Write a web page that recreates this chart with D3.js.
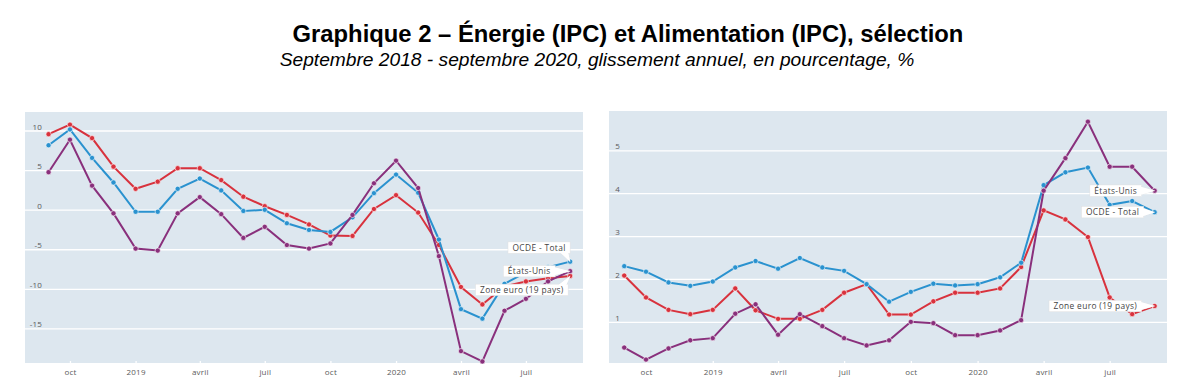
<!DOCTYPE html>
<html>
<head>
<meta charset="utf-8">
<script src="https://cdn.jsdelivr.net/npm/d3@7"></script>
<style>
  body { margin: 0; background: #fff; }
  svg { display: block; }
</style>
</head>
<body>
<div id="chart"></div>
<script>
// months, Sept 2018 -> Sept 2020
var months = ["2018-09","2018-10","2018-11","2018-12","2019-01","2019-02","2019-03","2019-04","2019-05","2019-06","2019-07","2019-08","2019-09",
  "2019-10","2019-11","2019-12","2020-01","2020-02","2020-03","2020-04","2020-05","2020-06","2020-07","2020-08","2020-09"];

var seriesNames = ["Zone euro (19 pays)", "OCDE - Total", "États-Unis"];

// Energie (IPC)
var energyEuro = [9.6,10.8,9.1,5.5,2.7,3.6,5.3,5.3,3.8,1.7,0.5,-0.6,-1.8,-3.2,-3.25,0.15,1.9,-0.3,-4.4,-9.7,-11.9,-9.6,-9.0,-8.6,-8.3];
var energyOcde = [8.2,10.2,6.6,3.5,-0.2,-0.2,2.7,4.0,2.5,-0.1,0.05,-1.65,-2.5,-2.75,-0.9,2.15,4.5,2.2,-3.7,-12.5,-13.7,-9.3,-7.85,-7.2,-6.5];
var energyUsa  = [4.8,8.9,3.1,-0.4,-4.85,-5.1,-0.4,1.65,-0.5,-3.5,-2.1,-4.4,-4.85,-4.2,-0.6,3.4,6.25,2.8,-5.8,-17.8,-19.1,-12.7,-11.2,-9.0,-7.7];

// Alimentation (IPC)
var foodEuro = [2.09,1.58,1.29,1.19,1.29,1.79,1.28,1.08,1.08,1.29,1.69,1.89,1.18,1.18,1.49,1.69,1.69,1.79,2.29,3.61,3.40,2.99,1.58,1.19,1.38];
var foodOcde = [2.31,2.18,1.93,1.85,1.95,2.28,2.43,2.25,2.50,2.28,2.20,1.89,1.48,1.71,1.90,1.86,1.89,2.05,2.39,4.20,4.50,4.61,3.74,3.83,3.57];
var foodUsa  = [0.41,0.13,0.39,0.58,0.63,1.20,1.42,0.71,1.19,0.91,0.63,0.46,0.58,1.01,0.98,0.70,0.70,0.81,1.05,4.07,4.83,5.68,4.63,4.63,4.07];

var tickDates = ["2018-10","2019-01","2019-04","2019-07","2019-10","2020-01","2020-04","2020-07"];
var tickLabels = ["oct","2019","avril","juil","oct","2020","avril","juil"];

var energyTicks = [10,5,0,-5,-10,-15];
var foodTicks = [1,2,3,4,5];

var colors = ["#d8323d", "#2a92cf", "#89307c"];

var width = 1180, height = 389;
var parse = d3.utcParse("%Y-%m");
var dates = months.map(parse);

var svg = d3.select("#chart").append("svg")
  .attr("width", width)
  .attr("height", height);

svg.append("text")
  .attr("x", 628)
  .attr("y", 42)
  .attr("text-anchor", "middle")
  .style("font-family", "'Liberation Sans', Arial, sans-serif")
  .style("font-weight", "bold")
  .style("font-size", "23.8px")
  .style("fill", "#000")
  .text("Graphique 2 – Énergie (IPC) et Alimentation (IPC), sélection");

svg.append("text")
  .attr("x", 597)
  .attr("y", 66)
  .attr("text-anchor", "middle")
  .style("font-family", "'Liberation Sans', Arial, sans-serif")
  .style("font-style", "italic")
  .style("font-size", "19.2px")
  .style("fill", "#000")
  .text("Septembre 2018 - septembre 2020, glissement annuel, en pourcentage, %");

var panels = [
  {
    box: {x0: 25, x1: 583, y0: 112, y1: 363},
    xDomain: [new Date(Date.UTC(2018,6,30)), new Date(Date.UTC(2020,8,19))],
    yDomain: [-19.3, 12.4],
    yTicks: energyTicks,
    labelX: 42,
    values: [energyEuro, energyOcde, energyUsa],
    notes: [
      {s: 1, dx: 0, dy: -14},
      {s: 2, dx: -15, dy: 0},
      {s: 0, dx: -2, dy: 14}
    ]
  },
  {
    box: {x0: 609, x1: 1167, y0: 111, y1: 363},
    xDomain: [new Date(Date.UTC(2018,7,11)), new Date(Date.UTC(2020,8,18))],
    yDomain: [0.05, 5.93],
    yTicks: foodTicks,
    labelX: 620,
    values: [foodEuro, foodOcde, foodUsa],
    notes: [
      {s: 2, dx: -13, dy: 0},
      {s: 1, dx: -11, dy: 0},
      {s: 0, dx: -13, dy: 0}
    ]
  }
];

panels.forEach(function(p) {
  var x = d3.scaleUtc().domain(p.xDomain).range([p.box.x0, p.box.x1]);
  var y = d3.scaleLinear().domain(p.yDomain).range([p.box.y1, p.box.y0]);
  var g = svg.append("g");

  g.append("rect")
    .attr("x", p.box.x0)
    .attr("y", p.box.y0)
    .attr("width", p.box.x1 - p.box.x0)
    .attr("height", p.box.y1 - p.box.y0)
    .style("fill", "#dde7ef");

  // horizontal grid
  g.selectAll(".grid")
    .data(p.yTicks)
    .enter()
    .append("line")
    .attr("x1", p.box.x0)
    .attr("x2", p.box.x1)
    .attr("y1", function(d) { return y(d); })
    .attr("y2", function(d) { return y(d); })
    .style("stroke", "#fff")
    .style("stroke-width", 1.3);

  // y labels sit just above the grid lines
  g.selectAll(".ylab")
    .data(p.yTicks)
    .enter()
    .append("text")
    .attr("x", p.labelX)
    .attr("y", function(d) { return y(d) - 1.5; })
    .attr("text-anchor", "end")
    .style("font-family", "'Open Sans', sans-serif")
    .style("font-size", "8px")
    .style("letter-spacing", "0.2px")
    .style("fill", "#5a5a5a")
    .text(function(d) { return String(d); });

  var xAxis = d3.axisBottom(x)
    .tickValues(tickDates.map(parse))
    .tickFormat(function(d, i) { return tickLabels[i]; })
    .tickSize(3)
    .tickPadding(5);

  var ax = g.append("g")
    .attr("transform", "translate(0," + (p.box.y1 - 2) + ")")
    .call(xAxis);
  ax.select(".domain").remove();
  ax.selectAll(".tick line").style("stroke", "#fff").style("stroke-width", 1.3);
  ax.selectAll(".tick text")
    .style("font-family", "'Open Sans', sans-serif")
    .style("font-size", "8px")
    .style("letter-spacing", "0.2px")
    .style("fill", "#5a5a5a");

  var line = d3.line()
    .x(function(d, i) { return x(dates[i]); })
    .y(function(d) { return y(d); });

  // red, blue, then purple on top
  p.values.forEach(function(vals, s) {
    g.append("path")
      .datum(vals)
      .attr("d", line)
      .style("fill", "none")
      .style("stroke", colors[s])
      .style("stroke-width", 2);

    g.selectAll(".pt" + s)
      .data(vals)
      .enter()
      .append("circle")
      .attr("cx", function(d, i) { return x(dates[i]); })
      .attr("cy", function(d) { return y(d); })
      .attr("r", 2.6)
      .style("fill", colors[s])
      .style("stroke", "#fff")
      .style("stroke-width", 0.6);
  });

  // end-of-line labels (hover style)
  p.notes.forEach(function(n) {
    var vals = p.values[n.s];
    var last = vals.length - 1;
    var tx = x(dates[last]), ty = y(vals[last]);
    var ng = g.append("g");
    var tip = ng.append("path");
    var box = ng.append("rect");
    var cover = ng.append("path");
    var t = ng.append("text")
      .style("font-family", "'Open Sans', sans-serif")
      .style("font-size", "8.4px")
      .style("letter-spacing", "0.35px")
      .style("fill", "#444")
      .text(seriesNames[n.s]);
    var w = t.node().getComputedTextLength() + 9;
    var h = 11.5;
    var bx1 = tx + n.dx, bx0 = bx1 - w;
    var by0 = ty + n.dy - h / 2, by1 = by0 + h;
    var base;
    if (tx > bx1 + 2) {
      var cy = Math.max(by0 + 4, Math.min(by1 - 4, ty));
      base = [[bx1 - 1, cy - 4], [bx1 - 1, cy + 4]];
    } else if (ty > by1) {
      base = [[bx1 - 10, by1 - 1], [bx1 - 2, by1 - 1]];
    } else {
      base = [[bx1 - 10, by0 + 1], [bx1 - 2, by0 + 1]];
    }
    var d = "M" + base[0] + "L" + [tx, ty] + "L" + base[1] + "Z";
    tip.attr("d", d)
      .style("fill", "#fff")
      .style("stroke", "#e0e0e0")
      .style("stroke-width", 0.5);
    box.attr("x", bx0)
      .attr("y", by0)
      .attr("width", w)
      .attr("height", h)
      .style("fill", "#fff")
      .style("stroke", "#e0e0e0")
      .style("stroke-width", 0.5);
    cover.attr("d", d).style("fill", "#fff");
    t.attr("x", bx0 + 4.5).attr("y", by0 + h / 2 + 3);
  });
});
</script>
</body>
</html>
